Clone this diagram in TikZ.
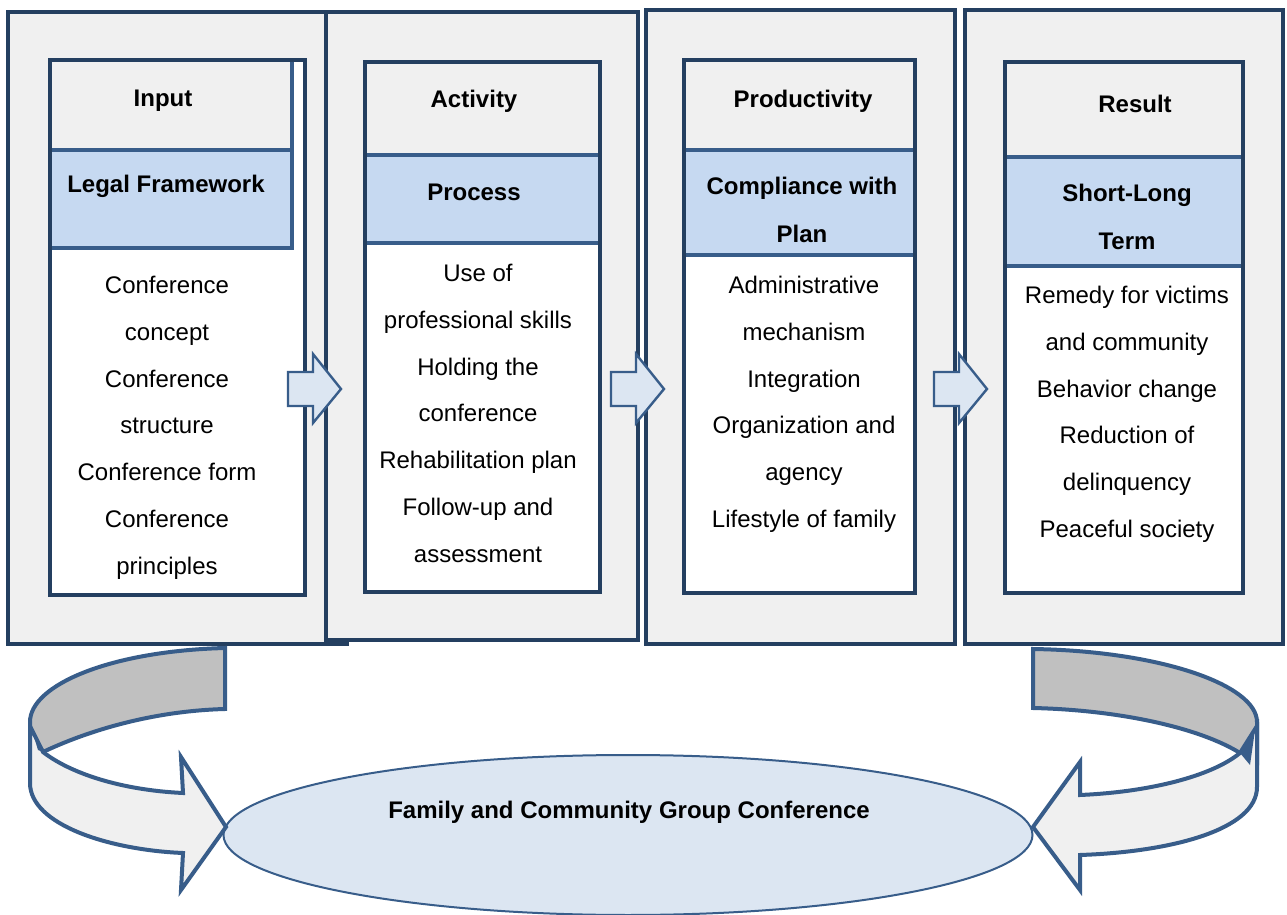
\documentclass[tikz,border=0pt]{standalone}
\usepackage{fontspec}
\setmainfont{Liberation Sans}
\usetikzlibrary{shapes.geometric}
\definecolor{navy}{HTML}{243F60}
\definecolor{edge}{HTML}{385D8A}
\definecolor{pale}{HTML}{F0F0F0}
\definecolor{sky}{HTML}{C6D9F1}
\definecolor{mist}{HTML}{DCE6F2}
\definecolor{band}{HTML}{C0C0C0}
\tikzset{
  outerbox/.style={draw=navy, line width=1.8pt, fill=pale},
  headbox/.style={draw=edge, line width=1.8pt, fill=pale},
  bluebox/.style={draw=edge, line width=1.8pt, fill=sky},
  headtxt/.style={font=\bfseries\fontsize{12}{24}\selectfont, inner sep=0pt, align=center},
  bodyline/.style={font=\fontsize{12}{14}\selectfont, inner sep=0pt, text height=9pt, text depth=2.5pt},
  blockarrow/.style={draw=edge, line width=1.2pt, fill=mist, line join=miter},
  ribbon/.style={draw=edge, line width=2pt, line join=miter}
}
\begin{document}
\begin{tikzpicture}[x=0.5pt, y=-0.5pt]
\useasboundingbox (0,0) rectangle (1287,915);
% four columns
\foreach \xa/\xb/\ya/\yb in {8/347/12/644, 326/638/12/640, 646/955/10/644, 965/1283/10/644}
  \draw[outerbox] (\xa,\ya) rectangle (\xb,\yb);
\foreach \xa/\xb/\xc/\ya/\yh/\yt/\yb in {50/305/292/60/150/248/595, 365/600/600/62/155/243/592,
    684/915/915/60/150/255/593, 1005/1243/1243/62/157/266/593}{
  \fill[white] (\xa,\ya) rectangle (\xb,\yb);
  \draw[headbox] (\xa,\ya) rectangle (\xc,\yh);
  \draw[bluebox] (\xa,\yh) rectangle (\xc,\yt);
  \draw[navy, line width=1.6pt] (\xa,\ya) rectangle (\xb,\yb);
}
% titles
\foreach \n/\x/\y/\t in {in/163/101/Input, ac/474/101/Activity, pd/803/101/Productivity, rs/1135/104/Result,
    lf/166/186/Legal Framework, pr/474/192/Process}
  \node[headtxt] (\n) at (\x,\y) {\t};
\node[headtxt] (cp) at (802,210) {Compliance with\\Plan};
\node[headtxt] (sl) at (1127,217) {Short-Long\\Term};
% contents
\foreach \t [count=\k from 0] in {Conference, concept, Conference, structure, Conference form, Conference, principles}
  \node[bodyline] (a\k) at (167,{287+46.8*\k}) {\t};
\foreach \t [count=\k from 0] in {Use of, professional skills, Holding the, conference, Rehabilitation plan, Follow-up and, assessment}
  \node[bodyline] (b\k) at (478,{275+46.8*\k}) {\t};
\foreach \t [count=\k from 0] in {Administrative, mechanism, Integration, Organization and, agency, Lifestyle of family}
  \node[bodyline] (c\k) at (804,{287+46.8*\k}) {\t};
\foreach \t [count=\k from 0] in {Remedy for victims, and community, Behavior change, Reduction of, delinquency, Peaceful society}
  \node[bodyline] (d\k) at (1127,{297+46.8*\k}) {\t};
% block arrows
\foreach \x in {288, 611, 934}
  \draw[blockarrow] (\x,372) -- (\x+25,372) -- (\x+25,354) -- (\x+53,389) -- (\x+25,423) -- (\x+25,406) -- (\x,406) -- cycle;
% conference
\node[ellipse, draw=edge, line width=1pt, fill=mist, minimum width=404.5pt, minimum height=80pt, inner sep=0pt] (fgc) at (628,835) {};
\node[headtxt] (fgctxt) at (629,812) {Family and Community Group Conference};
% left loop
\draw[ribbon, fill=band] (225,648) .. controls (110,651) and (30,685) .. (30,722) -- (30,760) -- (43,752)
  .. controls (85,732) and (150,711) .. (225,709) -- cycle;
\draw[ribbon, fill=pale] (30,726) -- (30,783) .. controls (30,825) and (110,850) .. (183,853) -- (181,890) -- (226,827)
  -- (181,757) -- (183,793) .. controls (120,790) and (70,773) .. (43,752) -- cycle;
\fill[edge] (32,730) -- (46,753) -- (38,750) -- cycle;
% right loop
\draw[ribbon, fill=band] (1033,649) .. controls (1160,651) and (1257,685) .. (1257,722) -- (1257,762) -- (1240,753)
  .. controls (1200,728) and (1120,710) .. (1033,708) -- cycle;
\draw[ribbon, fill=pale] (1257,726) -- (1257,787) .. controls (1257,830) and (1170,852) .. (1080,855) -- (1080,890)
  -- (1033,827) -- (1080,762) -- (1080,795) .. controls (1150,792) and (1212,776) .. (1240,753) -- cycle;
\fill[edge] (1255,730) -- (1240,753) -- (1250,765) -- cycle;
\end{tikzpicture}
\end{document}
